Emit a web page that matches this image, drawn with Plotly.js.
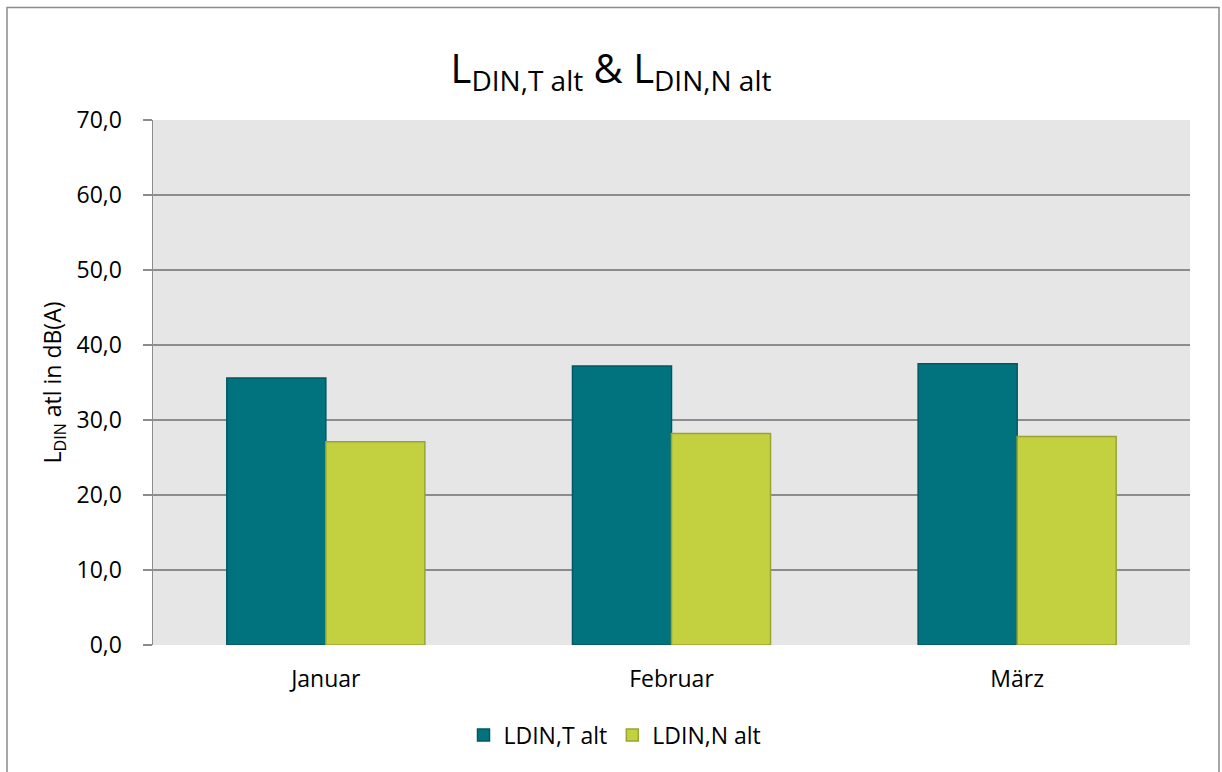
<!DOCTYPE html>
<html>
<head>
<meta charset="utf-8">
<script src="https://cdn.plot.ly/plotly-3.0.1.min.js"></script>
<style>
  html, body { margin: 0; padding: 0; background: #ffffff; }
  #chart { width: 1222px; height: 772px; }
</style>
</head>
<body>
<div id="chart"></div>
<script>
// Monthly noise levels (dB(A))
const months = ['Januar', 'Februar', 'März'];
const ldinTag = [35.6, 37.2, 37.5];    // LDIN,T alt
const ldinNacht = [27.1, 28.2, 27.8];  // LDIN,N alt
const seriesNames = ['LDIN,T alt', 'LDIN,N alt'];
const yTicks = [0, 10, 20, 30, 40, 50, 60, 70];

const W = 1222, H = 772;
const M = { l: 153, r: 32, t: 120, b: 127 };
const pw = W - M.l - M.r, ph = H - M.t - M.b;

// frame around the whole chart (open at the bottom edge)
const fx0 = (7 - M.l) / pw, fx1 = (1219 - M.l) / pw;
const fy1 = (H - M.b - 7.5) / ph, fy0 = -0.4;

const font = "'Open Sans', 'Noto Sans', sans-serif";
const fs = 23;

const traces = [
  {
    type: 'bar', name: seriesNames[0], x: months, y: ldinTag,
    marker: { color: '#00737f', line: { color: '#005862', width: 1.5 } },
    hoverinfo: 'x+y'
  },
  {
    type: 'bar', name: seriesNames[1], x: months, y: ldinNacht,
    marker: { color: '#c3d141', line: { color: '#98a533', width: 1.5 } },
    hoverinfo: 'x+y'
  }
];

const layout = {
  width: W, height: H,
  margin: M,
  paper_bgcolor: '#ffffff',
  plot_bgcolor: '#e6e6e6',
  separators: ',.',
  font: { family: font, size: fs, color: '#000000' },
  title: {
    text: 'L<sub>DIN,T alt</sub> & L<sub>DIN,N alt</sub>',
    font: { family: font, size: 40, color: '#000000' },
    x: 0.5, xanchor: 'center',
    y: 1 - 69 / H, yanchor: 'middle'
  },
  barmode: 'group',
  bargap: 0.427,
  bargroupgap: 0,
  xaxis: {
    type: 'category',
    showgrid: false,
    showline: false,
    ticks: '',
    tickfont: { family: font, size: fs },
    ticklabelstandoff: 18
  },
  yaxis: {
    range: [0, 70],
    tickvals: yTicks,
    tickformat: '.1f',
    showgrid: true,
    gridcolor: '#8c8c8c',
    gridwidth: 1.5,
    zeroline: false,
    showline: true,
    linecolor: '#8c8c8c',
    linewidth: 1.5,
    ticks: 'outside',
    ticklen: 9,
    tickwidth: 1.5,
    tickcolor: '#8c8c8c',
    tickfont: { family: font, size: fs },
    ticklabelstandoff: 16,
    title: {
      text: 'L<sub>DIN</sub> atl in dB(A)',
      font: { family: font, size: fs },
      standoff: 8
    }
  },
  showlegend: true,
  legend: {
    orientation: 'h',
    x: (615 - M.l) / pw, xanchor: 'center',
    y: -(735 - (H - M.b)) / ph, yanchor: 'middle',
    font: { family: font, size: fs },
    itemwidth: 30,
    traceorder: 'normal'
  },
  shapes: [
    {
      type: 'path', xref: 'paper', yref: 'paper',
      path: `M ${fx0},${fy0} L ${fx0},${fy1} L ${fx1},${fy1} L ${fx1},${fy0}`,
      line: { color: '#8c8c8c', width: 1.5 }
    }
  ]
};

Plotly.newPlot('chart', traces, layout, { displayModeBar: false, staticPlot: true });
</script>
</body>
</html>
